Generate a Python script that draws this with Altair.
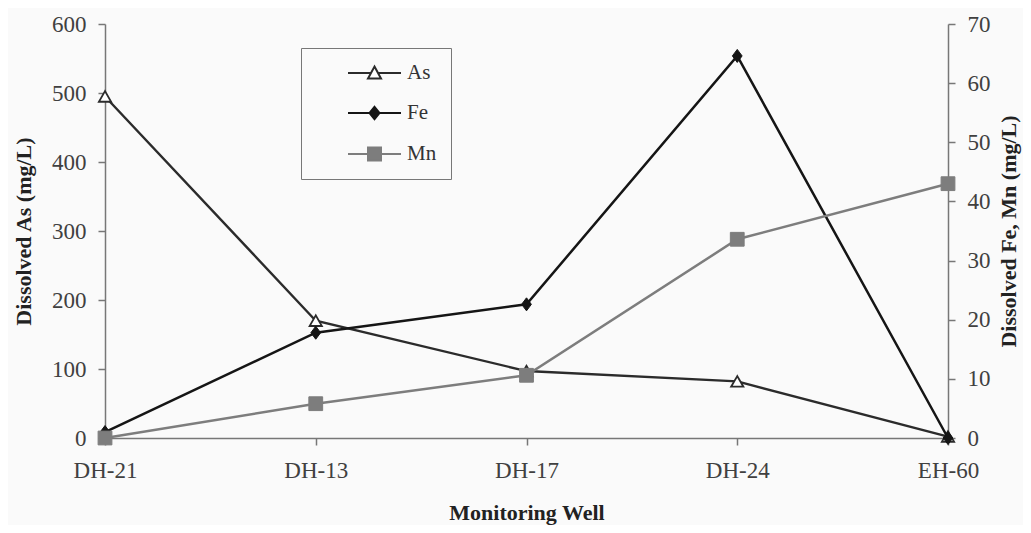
import altair as alt
import pandas as pd

# ---- data ----
wells = ["DH-21", "DH-13", "DH-17", "DH-24", "EH-60"]
as_vals = [495, 170, 97, 82, 2]          # left axis (mg/L)
fe_vals = [1.0, 17.8, 22.6, 64.6, 0.0]   # right axis (mg/L)
mn_vals = [0.0, 5.8, 10.6, 33.6, 43.0]   # right axis (mg/L)
series_names = ["As", "Fe", "Mn"]
left_ticks = [0, 100, 200, 300, 400, 500, 600]
right_ticks = [0, 10, 20, 30, 40, 50, 60, 70]

rows = []
for name, vals in zip(series_names, [as_vals, fe_vals, mn_vals]):
    for w, v in zip(wells, vals):
        rows.append({"well": w, "series": name, "value": v})
df = pd.DataFrame(rows)

FONT = "Liberation Serif"
BG = "#fafafa"
AXC = "#777777"

stroke_scale = alt.Scale(domain=series_names, range=["#2b2b2b", "#151515", "#7d7d7d"])
fill_scale = alt.Scale(domain=series_names, range=["#ffffff", "#151515", "#7d7d7d"])
# legend symbols: line + marker (drawn as custom paths)
leg_as = "M2.2,0H4.5M5.2,0H7.5M4.85,-0.65L5.5,0.55L4.2,0.55Z"
leg_fe = "M2.2,0H7.5M4.85,-0.62L5.35,0L4.85,0.62L4.35,0Z"
leg_mn = "M2.2,0H7.5M4.2,-0.65H5.5V0.65H4.2Z"
shape_scale = alt.Scale(domain=series_names, range=[leg_as, leg_fe, leg_mn])
diamond = "M0,-1L0.75,0L0,1L-0.75,0Z"

leg = alt.Legend(
    title=None, orient="none", legendX=196, legendY=24, padding=14,
    strokeColor=AXC, fillColor=BG, symbolSize=400, symbolStrokeWidth=2,
    labelOffset=70, labelFont=FONT, labelFontSize=21, labelColor="#333333",
    rowPadding=19,
)

x_enc = alt.X(
    "well:N", sort=wells,
    scale=alt.Scale(type="point", padding=0),
    axis=alt.Axis(
        title="Monitoring Well", labelAngle=0, tickSize=7, labelPadding=14,
        labelFont=FONT, labelFontSize=23, labelColor="#404040",
        titleFont=FONT, titleFontSize=22, titleFontWeight="bold", titleColor="#222222",
        titleY=64, domainColor=AXC, tickColor=AXC, domainWidth=1.5, tickWidth=1.5,
    ),
)

left_axis = alt.Axis(
    orient="left", values=left_ticks, title="Dissolved As (mg/L)",
    tickSize=7, labelPadding=12, labelFont=FONT, labelFontSize=23, labelColor="#404040",
    titleFont=FONT, titleFontSize=22, titleFontWeight="bold", titleColor="#222222",
    titleX=-82, titleY=207, titleAngle=-90, titleAlign="center", titleBaseline="middle",
    domainColor=AXC, tickColor=AXC, domainWidth=1.5, tickWidth=1.5, grid=False,
)
right_axis = alt.Axis(
    orient="right", values=right_ticks, title="Dissolved Fe, Mn (mg/L)",
    tickSize=7, labelPadding=12, labelFont=FONT, labelFontSize=23, labelColor="#404040",
    titleFont=FONT, titleFontSize=22, titleFontWeight="bold", titleColor="#222222",
    titleX=60, titleY=207, titleAngle=-90, titleAlign="center", titleBaseline="middle",
    domainColor=AXC, tickColor=AXC, domainWidth=1.5, tickWidth=1.5, grid=False,
)

y_left = alt.Y("value:Q", scale=alt.Scale(domain=[0, 600], nice=False), axis=left_axis)
y_right = alt.Y("value:Q", scale=alt.Scale(domain=[0, 70], nice=False), axis=right_axis)

stroke_enc = alt.Stroke("series:N", scale=stroke_scale, legend=leg)
fill_enc = alt.Fill("series:N", scale=fill_scale, legend=leg)

base = alt.Chart(df)

# --- As (left axis) ---
as_line = base.transform_filter("datum.series === 'As'").mark_line(strokeWidth=2.4).encode(
    x=x_enc, y=y_left, stroke=stroke_enc)
as_pts = base.transform_filter("datum.series === 'As'").mark_point(
    shape="triangle-up", size=150, filled=True, opacity=1, strokeWidth=1.8).encode(
    x=x_enc, y=y_left, stroke=stroke_enc, fill=fill_enc)
legend_only = base.transform_filter("false").mark_point(filled=True, opacity=1).encode(
    x=x_enc, y=y_left, stroke=stroke_enc, fill=fill_enc,
    shape=alt.Shape("series:N", scale=shape_scale, legend=leg))
left_layer = alt.layer(as_line, as_pts, legend_only)

# --- Fe, Mn (right axis) ---
femn_line = base.transform_filter("datum.series !== 'As'").mark_line(strokeWidth=2.5).encode(
    x=x_enc, y=y_right, stroke=stroke_enc, detail="series:N")
fe_pts = base.transform_filter("datum.series === 'Fe'").mark_point(
    shape=diamond, size=170, filled=True, opacity=1, strokeWidth=1).encode(
    x=x_enc, y=y_right, stroke=stroke_enc, fill=fill_enc)
mn_pts = base.transform_filter("datum.series === 'Mn'").mark_point(
    shape="square", size=190, filled=True, opacity=1, strokeWidth=1).encode(
    x=x_enc, y=y_right, stroke=stroke_enc, fill=fill_enc)
right_layer = alt.layer(femn_line, fe_pts, mn_pts)

chart = alt.layer(left_layer, right_layer).resolve_scale(y="independent").properties(
    width=843, height=414,
    autosize=alt.AutoSizeParams(type="none"),
    padding={"left": 97, "top": 16, "right": 75, "bottom": 87},
    background=BG,
).configure_view(stroke=None)

chart.save("out.html", embed_options={"renderer": "svg", "actions": False})
